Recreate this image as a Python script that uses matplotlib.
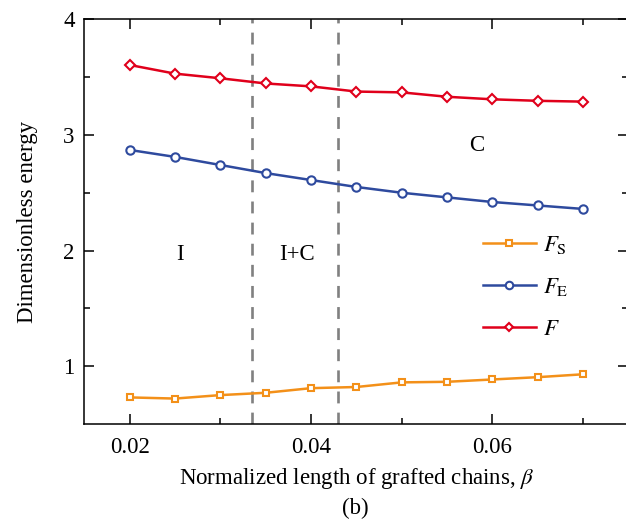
import matplotlib
matplotlib.use("Agg")
import matplotlib.pyplot as plt

plt.rcParams['font.family'] = ['Liberation Serif', 'DejaVu Serif']
plt.rcParams['mathtext.fontset'] = 'stix'

# data
beta = [0.020, 0.025, 0.030, 0.035, 0.040, 0.045, 0.050, 0.055, 0.060, 0.065, 0.070]
f_s = [0.73, 0.72, 0.75, 0.77, 0.81, 0.82, 0.86, 0.865, 0.885, 0.905, 0.93]
f_e = [2.87, 2.81, 2.74, 2.67, 2.61, 2.55, 2.50, 2.46, 2.42, 2.39, 2.36]
f_tot = [3.605, 3.53, 3.49, 3.445, 3.42, 3.375, 3.368, 3.33, 3.308, 3.295, 3.288]
boundaries = [0.0335, 0.043]
regions = ['I', 'I+C', 'C']
region_x = [0.0255, 0.0385, 0.0583]
region_y = [1.97, 1.97, 2.91]

orange = '#F39019'
blue = '#2E4A9E'
red = '#E0001B'
fs = 16.5

fig = plt.figure(figsize=(6.26, 5.2), dpi=100)
ax = fig.add_axes([0.1347, 0.1846, 0.869, 0.7783])

for xb in boundaries:
    ax.axvline(xb, color='#808080', lw=1.9, ls=(0, (4.5, 3.5)), zorder=1)

ax.plot(beta, f_s, color=orange, lw=1.8, marker='s', ms=5, mfc='white',
        mec=orange, mew=1.5, label=r'$F_{\mathrm{S}}$', zorder=3)
ax.plot(beta, f_e, color=blue, lw=1.8, marker='o', ms=6, mfc='white',
        mec=blue, mew=1.5, label=r'$F_{\mathrm{E}}$', zorder=3)
ax.plot(beta, f_tot, color=red, lw=1.8, marker='D', ms=5, mfc='white',
        mec=red, mew=1.5, label=r'$F$', zorder=3)

for name, tx, ty in zip(regions, region_x, region_y):
    ax.text(tx, ty, name, fontsize=fs, ha='center', va='center')

ax.set_xlim(0.015, 0.075)
ax.set_ylim(0.5, 4)
ax.set_xticks([0.02, 0.04, 0.06])
ax.set_xticklabels(['0.02', '0.04', '0.06'])
ax.set_xticks([0.03, 0.05, 0.07], minor=True)
ax.set_yticks([1, 2, 3, 4])
ax.set_yticks([1.5, 2.5, 3.5], minor=True)
ax.tick_params(which='both', direction='in', top=True, right=True,
               labelsize=fs, width=1.1)
ax.tick_params(axis='x', pad=9)
ax.tick_params(axis='y', pad=7)
ax.tick_params(which='major', length=7.5)
ax.tick_params(which='minor', length=4.5)
for sp in ax.spines.values():
    sp.set_linewidth(1.1)

ax.set_xlabel(r'Normalized length of grafted chains, $\beta$', fontsize=fs, labelpad=6)
ax.set_ylabel('Dimensionless energy', fontsize=fs, labelpad=18)

ax.legend(loc='upper left', bbox_to_anchor=(0.733, 0.47), frameon=False,
          fontsize=fs, handlelength=2.3, handletextpad=0.3, labelspacing=0.9,
          borderpad=0, borderaxespad=0, markerscale=0.9)

fig.text(0.5 * (0.1347 + 1.0), 1 - 514 / 520, '(b)', fontsize=fs,
         ha='center', va='baseline')

fig.savefig('out.png', dpi=100)
